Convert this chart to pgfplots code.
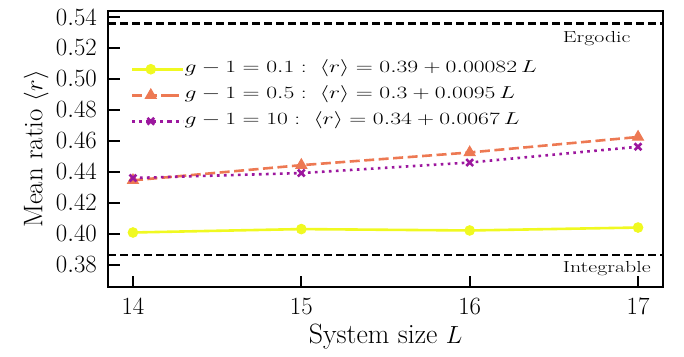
\documentclass[border=0pt]{standalone}
\usepackage{pgfplots}
\pgfplotsset{compat=1.18}
\definecolor{cyel}{RGB}{240,249,33}
\definecolor{corg}{RGB}{237,121,83}
\definecolor{cpur}{RGB}{156,23,158}
\newcommand{\lgs}[1]{\scalebox{1.37}[1]{#1}}
\begin{document}
\begin{tikzpicture}
\begin{axis}[name=ax,
  scale only axis, width=555bp, height=276bp,
  xmin=13.852, xmax=17.15, ymin=0.3655, ymax=0.5439,
  xtick={14,15,16,17},
  ytick={0.38,0.40,0.42,0.44,0.46,0.48,0.50,0.52,0.54},
  yticklabel style={/pgf/number format/fixed,/pgf/number format/fixed zerofill,/pgf/number format/precision=2},
  xtick pos=left, ytick pos=left, tick align=inside,
  major tick length=11.5bp,
  every tick/.style={black, line width=1.8bp},
  axis line style={line width=2.3bp},
  ticklabel style={font=\fontsize{24}{28}\selectfont},
  yticklabel style={inner sep=0pt, anchor=east, xshift=-11bp},
  xticklabel style={inner sep=0pt, anchor=north, yshift=-11bp},
  xlabel={System size $L$}, ylabel={Mean ratio $\langle r\rangle$},
  every axis x label/.style={at={(ticklabel cs:0.5)}, anchor=north, yshift=-6bp, font=\fontsize{28}{33}\selectfont},
  every axis y label/.style={at={(ticklabel cs:0.5)}, anchor=south, rotate=90, yshift=4bp, font=\fontsize{27}{32}\selectfont},
  legend style={draw=none, fill=none, at={(rel axis cs:0.041,0.817)}, anchor=north west,
    font=\fontsize{16}{19}\selectfont, row sep=11bp, inner sep=0pt,
    nodes={inner sep=0pt, text height=11bp, text depth=4bp},
    /tikz/every even column/.append style={column sep=0pt}},
  legend cell align=left,
  legend image code/.code={\draw[mark repeat=2,mark phase=2] plot coordinates {(0bp,0bp) (18.5bp,0bp) (37bp,0bp)};\path (37bp,0bp) -- (51bp,0bp);},
  clip=false,
]
\addplot[cyel, line width=2.6bp, mark=*, mark size=4.8bp, mark options={solid, line width=1bp}] coordinates {(14,0.4008) (15,0.4030) (16,0.4021) (17,0.4040)};
\addlegendentry{\lgs{$g-1=0.1:\ \langle r\rangle=0.39+0.00082\,L$}}
\addplot[corg, line width=2.6bp, dash pattern=on 10bp off 4.5bp, mark=triangle*, mark size=6.3bp, mark options={solid, line width=1bp}] coordinates {(14,0.4345) (15,0.4443) (16,0.4525) (17,0.4625)};
\addlegendentry{\lgs{$g-1=0.5:\ \langle r\rangle=0.3+0.0095\,L$}}
\addplot[cpur, line width=2.6bp, dash pattern=on 2.6bp off 4.4bp, mark=x, mark size=4.8bp, mark options={solid, line width=2.6bp}] coordinates {(14,0.4360) (15,0.4392) (16,0.4460) (17,0.4562)};
\addlegendentry{\lgs{$g-1=10:\ \langle r\rangle=0.34+0.0067\,L$}}
\addplot[black, line width=2.3bp, dash pattern=on 8bp off 4bp, forget plot] coordinates {(13.852,0.5359) (17.15,0.5359)};
\addplot[black, line width=2.3bp, dash pattern=on 8bp off 4bp, forget plot] coordinates {(13.852,0.3863) (17.15,0.3863)};
\node[anchor=base west, font=\fontsize{16}{19}\selectfont, inner sep=0pt] at (axis cs:16.553,0.5234) {\lgs{Ergodic}};
\node[anchor=base west, font=\fontsize{16}{19}\selectfont, inner sep=0pt] at (axis cs:16.553,0.3752) {\lgs{Integrable}};
\end{axis}
\pgfresetboundingbox
\path ([shift={(-108bp,-69.3bp)}]ax.south west) rectangle ([shift={(20.7bp,11bp)}]ax.north east);
\end{tikzpicture}
\end{document}
